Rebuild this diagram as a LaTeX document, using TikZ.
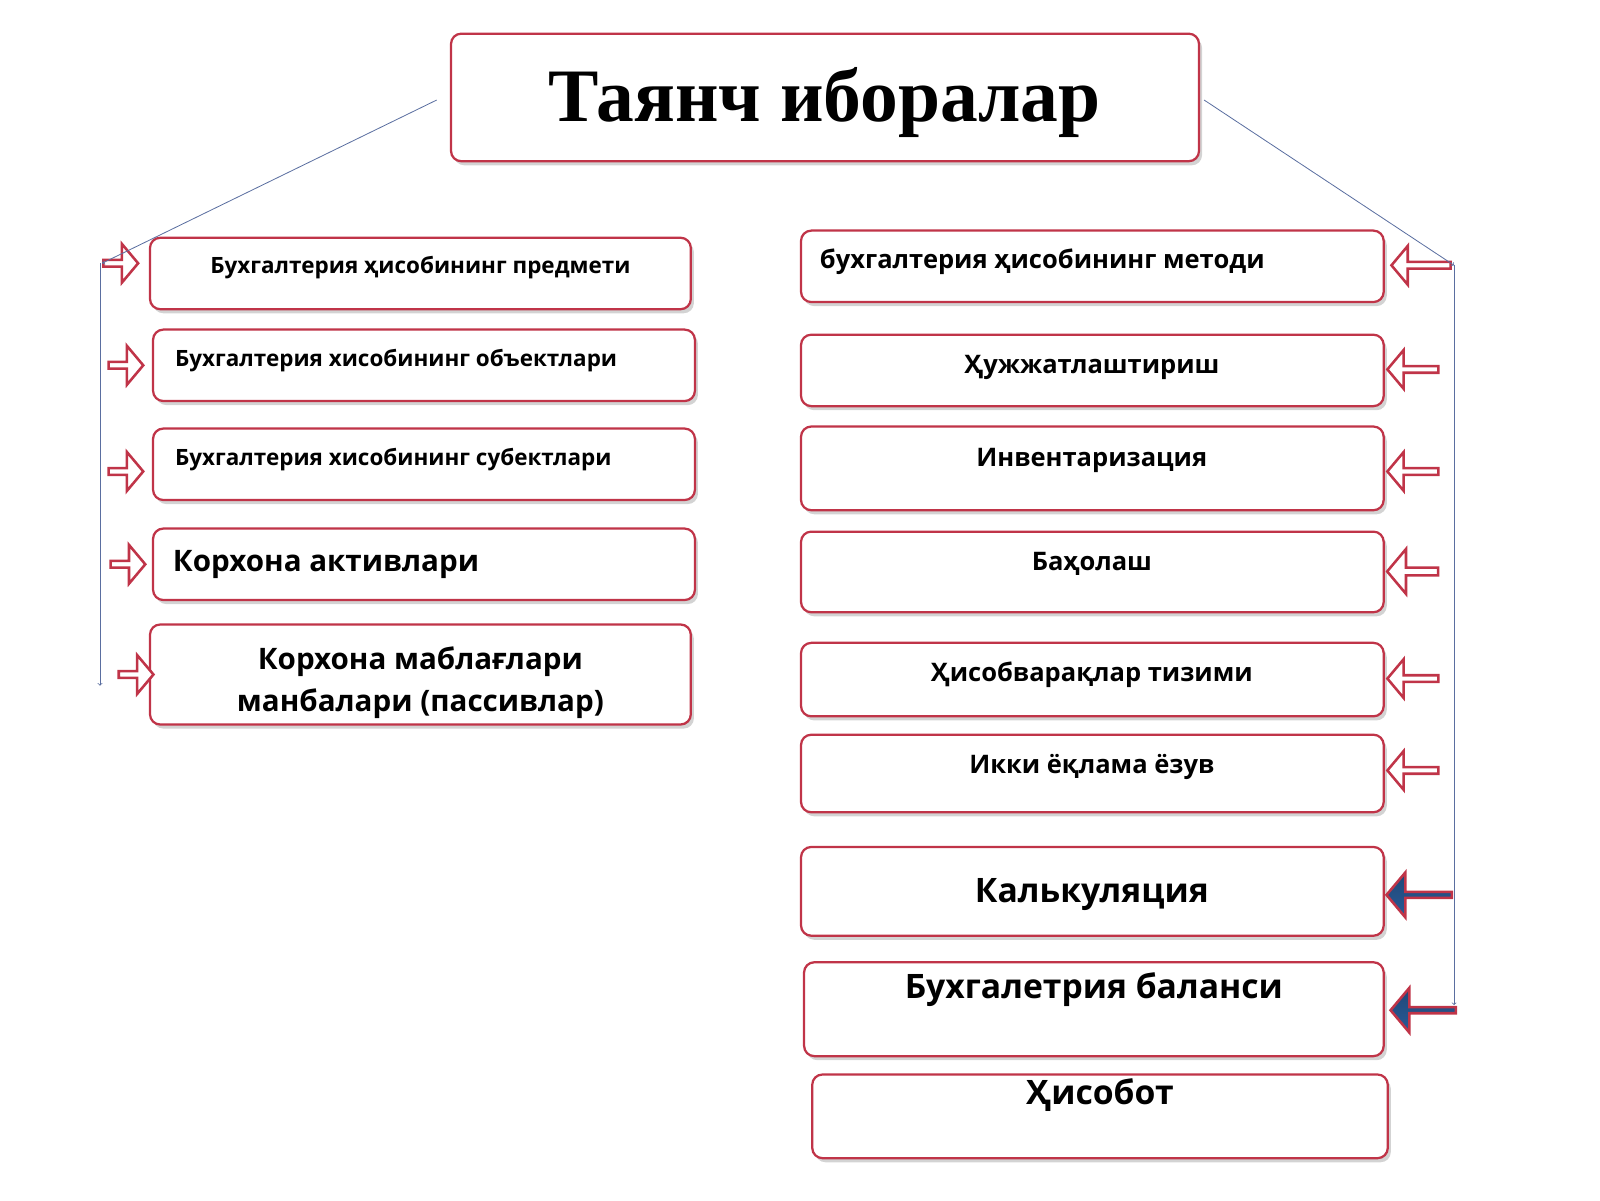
\documentclass[tikz,border=0pt]{standalone}
\usepackage{fontspec}
\setmainfont{Open Sans}
\newfontfamily\titlefont{Liberation Serif}
\usetikzlibrary{shapes.arrows,shadows}
\definecolor{bred}{RGB}{192,52,72}
\definecolor{lblue}{RGB}{90,110,160}
\definecolor{dblue}{RGB}{40,90,150}
\begin{document}
\begin{tikzpicture}[x=1pt,y=-1pt,
 box/.style={draw=bred,line width=2.2pt,rounded corners=10pt,fill=white,
   drop shadow={shadow xshift=3pt,shadow yshift=-4pt,opacity=0.35}},
 txt/.style={font=\bfseries\fontsize{22}{26}\selectfont},
 big/.style={font=\bfseries\fontsize{29}{41}\selectfont},
 harr/.style={single arrow,draw=bred,line width=2.5pt,fill=white,minimum height=34pt,minimum width=38pt,single arrow head extend=6pt,single arrow tip angle=100,inner sep=0pt},
 farr/.style={single arrow,draw=bred,line width=2.5pt,top color=dblue!80!black,bottom color=dblue,minimum height=64pt,minimum width=44pt,single arrow head extend=8pt,single arrow tip angle=100,shape border rotate=180,inner sep=0pt},
 thin/.style={draw=lblue,line width=0.8pt,->}]
\useasboundingbox (0,0) rectangle (1568,1176);
% title
\draw[box] (442,33) rectangle (1175,158);
\node[font=\titlefont\bfseries\fontsize{74}{80}\selectfont] (title) at (808,100) {Таянч иборалар};
\coordinate (tl) at (428,98); \coordinate (tr) at (1180,98);
% left boxes
\draw[box] (147,233) rectangle (677,303);
\node[txt] (l1) at (412,262) {Бухгалтерия ҳисобининг предмети};
\draw[box] (150,323) rectangle (681,393);
\node[txt,anchor=west] (l2) at (168,353) {Бухгалтерия хисобининг объектлари};
\draw[box] (150,420) rectangle (681,490);
\node[txt,anchor=west] (l3) at (168,450) {Бухгалтерия хисобининг субектлари};
\draw[box] (150,518) rectangle (681,588);
\node[big,anchor=west] (l4) at (166,553) {Корхона активлари};
\draw[box] (147,612) rectangle (677,710);
\node[big,align=center] (l5) at (412,669) {Корхона маблағлари\\манбалари (пассивлар)};
% left arrows
\node[harr] (a1) at (117,258) {};
\node[harr] (a2) at (122,358) {};
\node[harr] (a3) at (122,462) {};
\node[harr] (a4) at (124,553) {};
\node[harr] (a5) at (132,661) {};
% right boxes
\draw[box] (785,226) rectangle (1356,296);
\node[txt,font=\bfseries\fontsize{25}{30}\selectfont,anchor=west] (r1) at (800,257) {бухгалтерия ҳисобининг методи};
\draw[box] (785,328) rectangle (1356,398);
\node[txt,font=\bfseries\fontsize{25}{30}\selectfont] (r2) at (1070,360) {Ҳужжатлаштириш};
\draw[box] (785,418) rectangle (1356,500);
\node[txt,font=\bfseries\fontsize{25}{30}\selectfont] (r3) at (1070,451) {Инвентаризация};
\draw[box] (785,521) rectangle (1356,600);
\node[txt,font=\bfseries\fontsize{25}{30}\selectfont] (r4) at (1070,553) {Баҳолаш};
\draw[box] (785,630) rectangle (1356,702);
\node[txt,font=\bfseries\fontsize{25}{30}\selectfont] (r5) at (1070,661) {Ҳисобварақлар тизими};
\draw[box] (785,720) rectangle (1356,796);
\node[txt,font=\bfseries\fontsize{25}{30}\selectfont] (r6) at (1070,752) {Икки ёқлама ёзув};
\draw[box] (785,830) rectangle (1356,917);
\node[big,font=\bfseries\fontsize{33}{40}\selectfont] (r7) at (1070,877) {Калькуляция};
\draw[box] (788,943) rectangle (1356,1035);
\node[big,font=\bfseries\fontsize{33}{40}\selectfont] (r8) at (1072,970) {Бухгалетрия баланси};
\draw[box] (796,1053) rectangle (1360,1135);
\node[big,font=\bfseries\fontsize{33}{40}\selectfont] (r9) at (1078,1073) {Ҳисобот};
% right arrows
\node[harr,shape border rotate=180,minimum height=58pt] (b1) at (1394,260) {};
\node[harr,shape border rotate=180,minimum height=50pt] (b2) at (1386,362) {};
\node[harr,shape border rotate=180,minimum height=50pt] (b3) at (1386,462) {};
\node[harr,shape border rotate=180,minimum height=50pt,minimum width=44pt] (b4) at (1386,560) {};
\node[harr,shape border rotate=180,minimum height=50pt] (b5) at (1386,665) {};
\node[harr,shape border rotate=180,minimum height=50pt] (b6) at (1386,755) {};
\node[farr] (b7) at (1392,877) {};
\node[farr] (b8) at (1396,990) {};
% thin connectors
\coordinate (lc) at (100,258); \coordinate (le) at (98,672);
\coordinate (rc) at (1425,260); \coordinate (re) at (1425,985);
\draw[thin] (tl) -- (lc);
\draw[thin] (98,258) -- (le);
\draw[thin] (tr) -- (rc);
\draw[thin] (rc) -- (re);
\end{tikzpicture}
\end{document}
